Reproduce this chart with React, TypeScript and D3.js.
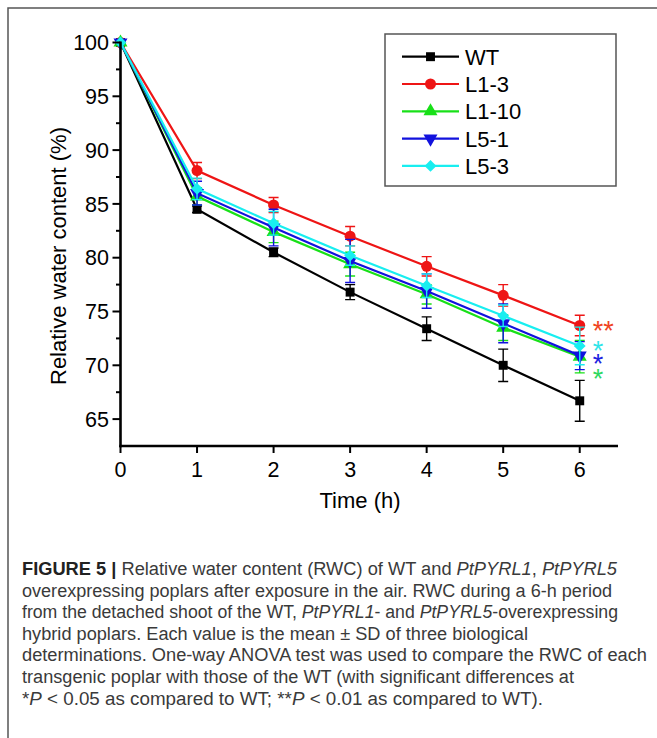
import React, { useEffect, useRef } from 'react';
import * as d3 from 'd3';

const hours = [0, 1, 2, 3, 4, 5, 6];
const seriesNames = ['WT', 'L1-3', 'L1-10', 'L5-1', 'L5-3'];
const seriesColors = ['#000000', '#ee1515', '#18e018', '#1212dd', '#18eef0'];
const seriesShapes = ['square', 'circle', 'up', 'down', 'diamond'];

const wtValues = [100, 84.5, 80.5, 76.8, 73.4, 70.0, 66.7];
const l13Values = [100, 88.1, 84.9, 82.0, 79.2, 76.5, 73.7];
const l110Values = [100, 85.7, 82.4, 79.4, 76.6, 73.5, 70.8];
const l51Values = [100, 86.0, 82.8, 79.7, 76.9, 73.9, 70.9];
const l53Values = [100, 86.4, 83.2, 80.2, 77.4, 74.6, 71.8];

const wtSd = [0, 0.3, 0.4, 0.7, 1.1, 1.5, 1.9];
const l13Sd = [0, 0.75, 0.7, 0.9, 0.9, 1.0, 0.95];
const l110Sd = [0, 0.8, 1.0, 1.1, 0.9, 1.2, 1.5];
const l51Sd = [0, 1.1, 1.7, 2.0, 1.6, 1.8, 1.3];
const l53Sd = [0, 1.0, 1.1, 0.9, 1.1, 1.0, 1.75];

const yTicks = [65, 70, 75, 80, 85, 90, 95, 100];
const yMinorTicks = [67.5, 72.5, 77.5, 82.5, 87.5, 92.5, 97.5];

const sigLabels = ['**', '*', '*', '*'];
const sigColors = ['#f04422', '#30e4e8', '#2020e0', '#30d860'];
const sigValues = [73.7, 71.85, 70.65, 69.3];

const captionEnds = [617, 612, 618, 528, 647, 574, 543];

const App = () => {
  const svgRef = useRef<SVGSVGElement>(null);

  useEffect(() => {
    const svg = d3.select(svgRef.current);
    svg.selectAll('*').remove();

    const font = 'Liberation Sans, Arial, sans-serif';
    const values = [wtValues, l13Values, l110Values, l51Values, l53Values];
    const sds = [wtSd, l13Sd, l110Sd, l51Sd, l53Sd];

    const x = d3.scaleLinear().domain([0, 6.5]).range([120.5, 618]);
    const y = d3.scaleLinear().domain([62.5, 100]).range([446, 42.5]);

    // figure frame
    svg.append('path')
      .attr('d', 'M8,738 L8,8 L657,8')
      .attr('fill', 'none')
      .attr('stroke', '#555')
      .attr('stroke-width', 1.5);

    const symbolFor = (shape: string) => {
      if (shape === 'square') return d3.symbol().type(d3.symbolSquare).size(80)();
      if (shape === 'circle') return d3.symbol().type(d3.symbolCircle).size(95)();
      if (shape === 'diamond') return d3.symbol().type(d3.symbolSquare).size(70)();
      return d3.symbol().type(d3.symbolTriangle).size(85)();
    };
    const rotateFor = (shape: string) =>
      shape === 'down' ? ' rotate(180)' : shape === 'diamond' ? ' rotate(45)' : '';

    const g = svg.append('g');

    // series
    const line = d3.line<number>()
      .x((_, i) => x(hours[i]))
      .y(d => y(d));

    values.forEach((vals, s) => {
      const color = seriesColors[s];
      const sg = g.append('g');
      sg.append('path')
        .datum(vals)
        .attr('fill', 'none')
        .attr('stroke', color)
        .attr('stroke-width', 2.2)
        .attr('d', line);

      vals.forEach((v, i) => {
        const sd = sds[s][i];
        if (sd <= 0) return;
        const cx = x(hours[i]);
        sg.append('path')
          .attr('d', `M${cx},${y(v - sd)}V${y(v + sd)}M${cx - 5},${y(v + sd)}h10M${cx - 5},${y(v - sd)}h10`)
          .attr('fill', 'none')
          .attr('stroke', color)
          .attr('stroke-width', 1.4);
      });

      sg.selectAll('.pt')
        .data(vals)
        .enter().append('path')
        .attr('d', symbolFor(seriesShapes[s]))
        .attr('transform', (d, i) => `translate(${x(hours[i])},${y(d)})${rotateFor(seriesShapes[s])}`)
        .attr('fill', color);
    });

    // axes
    const axes = svg.append('g').attr('stroke', '#000');
    axes.append('line')
      .attr('x1', x(0)).attr('x2', x(0))
      .attr('y1', y(100) - 1).attr('y2', y(62.5) + 1.2)
      .attr('stroke-width', 2.6);
    axes.append('line')
      .attr('x1', x(0) - 1.2).attr('x2', x(6.5))
      .attr('y1', y(62.5)).attr('y2', y(62.5))
      .attr('stroke-width', 2.6);

    yTicks.forEach(t => {
      axes.append('line')
        .attr('x1', x(0) - 8).attr('x2', x(0))
        .attr('y1', y(t)).attr('y2', y(t))
        .attr('stroke-width', 2);
      svg.append('text')
        .attr('x', 109).attr('y', y(t))
        .attr('dy', '0.36em')
        .attr('text-anchor', 'end')
        .attr('font-family', font)
        .attr('font-size', 21.5)
        .text(t);
    });
    yMinorTicks.forEach(t => {
      axes.append('line')
        .attr('x1', x(0) - 4.5).attr('x2', x(0))
        .attr('y1', y(t)).attr('y2', y(t))
        .attr('stroke-width', 2);
    });
    hours.forEach(h => {
      axes.append('line')
        .attr('x1', x(h)).attr('x2', x(h))
        .attr('y1', y(62.5)).attr('y2', y(62.5) + 7)
        .attr('stroke-width', 2);
      svg.append('text')
        .attr('x', x(h)).attr('y', y(62.5) + 30.5)
        .attr('text-anchor', 'middle')
        .attr('font-family', font)
        .attr('font-size', 21.5)
        .text(h);
    });

    svg.append('text')
      .attr('x', 360).attr('y', 508)
      .attr('text-anchor', 'middle')
      .attr('font-family', font)
      .attr('font-size', 22)
      .text('Time (h)');

    svg.append('text')
      .attr('transform', 'translate(66,256) rotate(-90)')
      .attr('text-anchor', 'middle')
      .attr('font-family', font)
      .attr('font-size', 22)
      .text('Relative water content (%)');

    // significance marks
    sigLabels.forEach((lab, i) => {
      svg.append('text')
        .attr('x', x(6) + 13)
        .attr('y', y(sigValues[i]) + 15)
        .attr('font-family', font)
        .attr('font-size', 27)
        .attr('fill', sigColors[i])
        .text(lab);
    });

    // legend
    const lg = svg.append('g');
    lg.append('rect')
      .attr('x', 385).attr('y', 34)
      .attr('width', 231).attr('height', 152)
      .attr('fill', 'white')
      .attr('stroke', '#555')
      .attr('stroke-width', 1.5);
    seriesNames.forEach((name, s) => {
      const ly = 56.7 + s * 27.3;
      lg.append('line')
        .attr('x1', 402).attr('x2', 459)
        .attr('y1', ly).attr('y2', ly)
        .attr('stroke', seriesColors[s])
        .attr('stroke-width', 2.2);
      lg.append('path')
        .attr('d', symbolFor(seriesShapes[s]))
        .attr('transform', `translate(430.5,${ly})${rotateFor(seriesShapes[s])}`)
        .attr('fill', seriesColors[s]);
      lg.append('text')
        .attr('x', 465).attr('y', ly + 8)
        .attr('font-family', font)
        .attr('font-size', 22)
        .text(name);
    });

    // caption
    const cap = svg.append('g')
      .attr('font-family', font)
      .attr('font-size', 18)
      .attr('fill', '#3a3a3a');
    const parts: [string, string][][] = [
      [['b', 'FIGURE 5 |'], ['n', ' Relative water content (RWC) of WT and '], ['i', 'PtPYRL1'], ['n', ', '], ['i', 'PtPYRL5']],
      [['n', 'overexpressing poplars after exposure in the air. RWC during a 6-h period']],
      [['n', 'from the detached shoot of the WT, '], ['i', 'PtPYRL1'], ['n', '- and '], ['i', 'PtPYRL5'], ['n', '-overexpressing']],
      [['n', 'hybrid poplars. Each value is the mean \u00b1 SD of three biological']],
      [['n', 'determinations. One-way ANOVA test was used to compare the RWC of each']],
      [['n', 'transgenic poplar with those of the WT (with significant differences at']],
      [['n', '*'], ['i', 'P'], ['n', ' < 0.05 as compared to WT; **'], ['i', 'P'], ['n', ' < 0.01 as compared to WT).']],
    ];
    parts.forEach((line, li) => {
      const t = cap.append('text')
        .attr('x', 22)
        .attr('y', 575 + li * 21.6)
        .attr('textLength', captionEnds[li] - 22)
        .attr('lengthAdjust', 'spacingAndGlyphs');
      line.forEach(([kind, str]) => {
        const ts = t.append('tspan').text(str);
        if (kind === 'b') ts.attr('font-weight', 'bold').attr('fill', '#222');
        if (kind === 'i') ts.attr('font-style', 'italic');
      });
    });
  }, []);

  return (
    <svg
      ref={svgRef}
      width={657}
      height={738}
      style={{ position: 'absolute', left: 0, top: 0, background: 'white' }}
    />
  );
};

export default App;
